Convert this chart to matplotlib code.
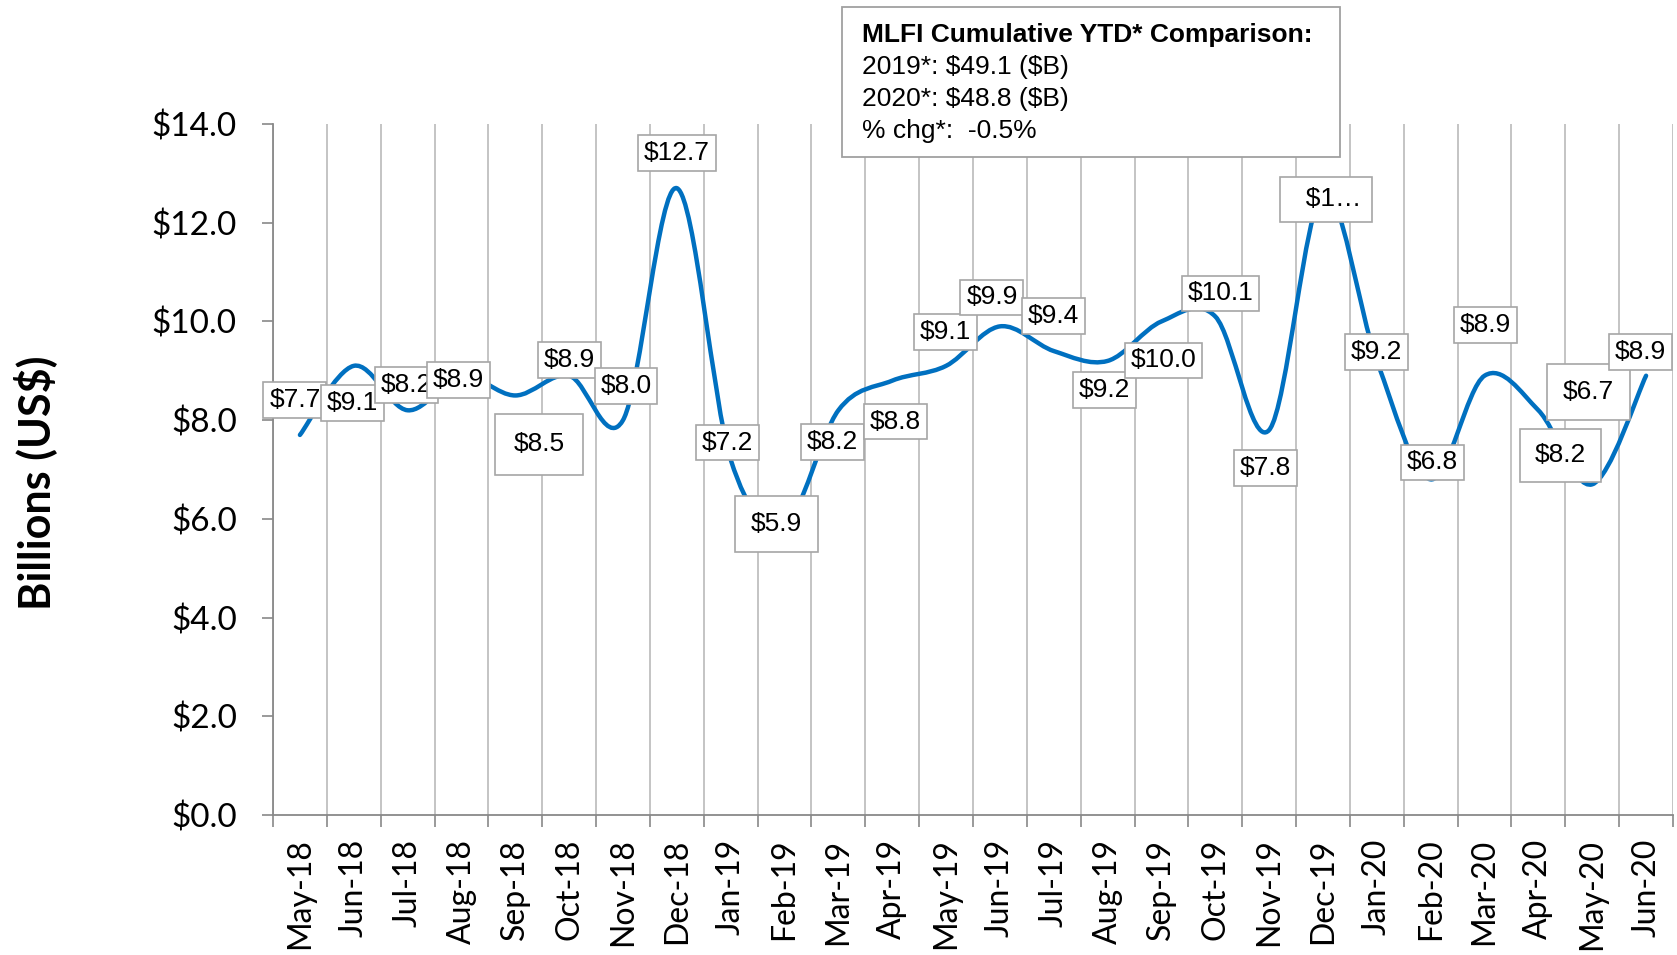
import numpy as np
import matplotlib
matplotlib.use('Agg')
import matplotlib.pyplot as plt
from matplotlib.path import Path
from matplotlib.patches import PathPatch, Rectangle

# monthly MLFI new business volume, billions US$
months = ['May-18', 'Jun-18', 'Jul-18', 'Aug-18', 'Sep-18', 'Oct-18', 'Nov-18',
          'Dec-18', 'Jan-19', 'Feb-19', 'Mar-19', 'Apr-19', 'May-19', 'Jun-19',
          'Jul-19', 'Aug-19', 'Sep-19', 'Oct-19', 'Nov-19', 'Dec-19', 'Jan-20',
          'Feb-20', 'Mar-20', 'Apr-20', 'May-20', 'Jun-20']
volume = [7.7, 9.1, 8.2, 8.9, 8.5, 8.9, 8.0, 12.7, 7.2, 5.9, 8.2, 8.8, 9.1,
          9.9, 9.4, 9.2, 10.0, 10.1, 7.8, 12.6, 9.2, 6.8, 8.9, 8.2, 6.7, 8.9]
yticks = [0, 2, 4, 6, 8, 10, 12, 14]
box_lines = ['MLFI Cumulative YTD* Comparison:',
             '2019*: $49.1 ($B)',
             '2020*: $48.8 ($B)',
             '% chg*:  -0.5%']

labels = ['$%.1f' % v for v in volume]
labels[19] = '  $1…'   # truncated in the original

# label offsets from the point, in pixels (x right, y down) and box padding
offsets = [(-5, -35), (-1, 37), (-1, -25), (-3, 4), (24, 49), (0, -16), (3, -34),
           (0, -35), (-3, -17), (-8, 0), (-6, 32), (3, 41), (-1, -34), (-8, -29),
           (0, -35), (-3, 29), (2, 39), (5, -23), (-4, 38), (3, 6), (0, -9),
           (2, -17), (1, -51), (22, 45), (-4, -92), (-6, -24)]
pads = [0.22] * len(volume)
pads[4] = 0.7
pads[9] = 0.6
pads[19] = 0.4
pads[23] = 0.55
pads[24] = 0.6

W, H = 1677, 955
fig = plt.figure(figsize=(W / 100, H / 100), dpi=100)
ax = fig.add_axes([273 / W, 1 - 815 / H, 1400 / W, (815 - 124) / H])

xs = np.arange(len(volume)) + 0.5
ys = np.array(volume)

# smoothed line like excel (bezier through every point)
n = len(xs)
verts = [(xs[0], ys[0])]
codes = [Path.MOVETO]
for i in range(n - 1):
    a = i - 1 if i > 0 else i
    d = i + 2 if i + 2 < n else i + 1
    c1 = (xs[i] + (xs[i + 1] - xs[a]) / 6, ys[i] + (ys[i + 1] - ys[a]) / 6)
    c2 = (xs[i + 1] - (xs[d] - xs[i]) / 6, ys[i + 1] - (ys[d] - ys[i]) / 6)
    verts += [c1, c2, (xs[i + 1], ys[i + 1])]
    codes += [Path.CURVE4] * 3
line = PathPatch(Path(verts, codes), fill=False, edgecolor='#0070C0', lw=3.2,
                 capstyle='round', joinstyle='round', zorder=3)
ax.add_patch(line)

for i in range(n):
    dx, dy = offsets[i]
    ax.annotate(labels[i], (xs[i], ys[i]), xytext=(dx * 0.72, -dy * 0.72),
                textcoords='offset points', ha='center', va='center',
                fontsize=19, family='Liberation Sans', color='black', zorder=5,
                parse_math=False,
                bbox=dict(boxstyle='square,pad=%.2f' % pads[i], fc='white',
                          ec='#A6A6A6', lw=1.2))

ax.set_xlim(0, 26)
ax.set_ylim(0, 14)
ax.set_yticks(yticks)
ax.set_yticklabels(['$%.1f' % t for t in yticks], family='Lato', fontsize=24)
ax.set_xticks(xs)
ax.set_xticklabels(months, rotation=90, family='Lato', fontsize=23)
ax.set_xticks(np.arange(0, 27), minor=True)
ax.tick_params(axis='x', which='major', length=0, pad=17)
ax.tick_params(axis='x', which='minor', length=8.5, width=1.2, color='#898989')
ax.tick_params(axis='y', length=8, width=1.2, color='#898989', pad=18)
ax.grid(which='minor', axis='x', color='#BFBFBF', lw=1.3, zorder=0)
for s in ['top', 'right']:
    ax.spines[s].set_visible(False)
for s in ['left', 'bottom']:
    ax.spines[s].set_color('#898989')
    ax.spines[s].set_linewidth(1.3)

fig.text(35 / W, 0.495, 'Billions (US$)', rotation=90, ha='center', va='center',
         family='Lato', fontweight='bold', fontsize=31, parse_math=False)

# comparison box
fig.patches.append(Rectangle((842 / W, 1 - 157 / H), 498 / W, 150 / H,
                             transform=fig.transFigure, fc='white',
                             ec='#A0A0A0', lw=1.3, zorder=6))
for k, t in enumerate(box_lines):
    fig.text(862 / W, 1 - (35 + 32 * k) / H, t, ha='left', va='center',
             family='Liberation Sans', fontsize=19, parse_math=False,
             fontweight='bold' if k == 0 else 'normal', zorder=7)

fig.savefig('out.png', dpi=100)
